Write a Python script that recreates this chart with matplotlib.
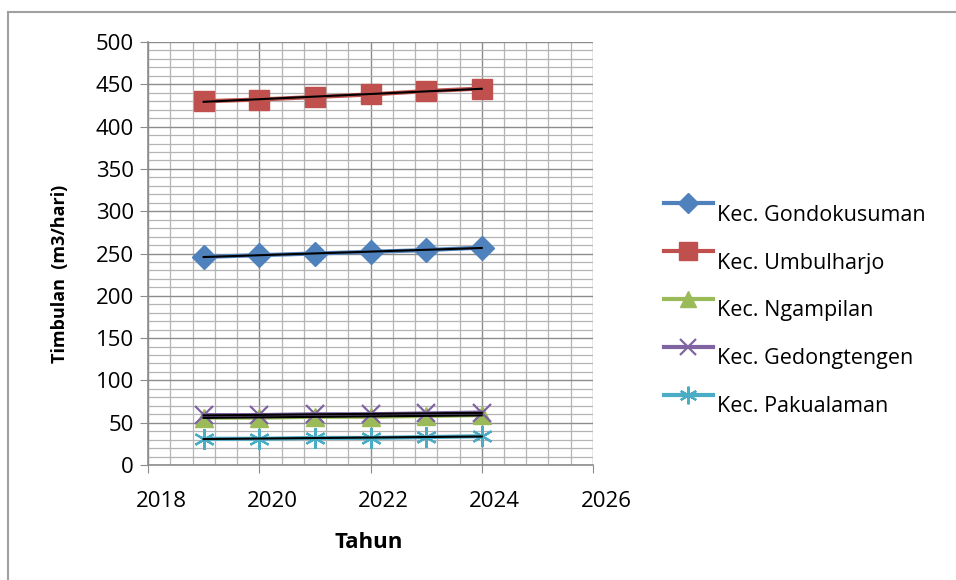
import matplotlib
matplotlib.use('Agg')
import matplotlib.pyplot as plt
import matplotlib.transforms as mtransforms
import numpy as np
from matplotlib.ticker import MultipleLocator

plt.rcParams['font.family'] = ['Open Sans', 'DejaVu Sans']

# data
tahun = [2019, 2020, 2021, 2022, 2023, 2024]
gondokusuman = [246, 248, 250, 252, 254, 257]
umbulharjo = [430, 432, 435, 438, 442, 445]
ngampilan = [56, 56, 57, 57, 58, 59]
gedongtengen = [59, 59, 60, 60, 61, 62]
pakualaman = [31, 31, 32, 32, 33, 34]

labels = ['Kec. Gondokusuman', 'Kec. Umbulharjo', 'Kec. Ngampilan',
          'Kec. Gedongtengen', 'Kec. Pakualaman']
colors = ['#4F81BD', '#C0504D', '#9BBB59', '#8064A2', '#4BACC6']
markers = ['D', 's', '^', 'x', (6, 2, 0)]
msizes = [12, 15, 13, 13, 15]
series = [gondokusuman, umbulharjo, ngampilan, gedongtengen, pakualaman]

fig = plt.figure(figsize=(9.56, 5.8), dpi=100)
top = 42
ax = fig.add_axes([148 / 956, 1 - 465 / 580, (593 - 148) / 956, (465 - top) / 580])

x = np.array(tahun)
for y, lab, c, m, ms in zip(series, labels, colors, markers, msizes):
    y = np.array(y)
    if m in ('x',) or isinstance(m, tuple):
        ax.plot(x, y, color=c, lw=3, marker=m, ms=ms, mew=1.6, label=lab, zorder=3)
    else:
        ax.plot(x, y, color=c, lw=3, marker=m, ms=ms, mec=c, label=lab, zorder=3)
    # linear trendline like Excel
    k, b = np.polyfit(x, y, 1)
    ax.plot(x, k * x + b, color='black', lw=1.5, zorder=4)

ax.set_xlim(2018, 2026)
ax.set_ylim(0, 500)
ax.xaxis.set_major_locator(MultipleLocator(2))
ax.xaxis.set_minor_locator(MultipleLocator(0.4))
ax.yaxis.set_major_locator(MultipleLocator(50))
ax.yaxis.set_minor_locator(MultipleLocator(10))
ax.grid(which='major', color='#8c8c8c', lw=1.0)
ax.grid(which='minor', color='#b4b4b4', lw=0.9)
ax.set_axisbelow(True)

for s in ['top', 'right']:
    ax.spines[s].set_visible(False)
for s in ['left', 'bottom']:
    ax.spines[s].set_color('#8c8c8c')
    ax.spines[s].set_linewidth(1.2)

ax.tick_params(which='major', length=6, color='#8c8c8c', labelsize=16, pad=4)
ax.tick_params(which='minor', length=0)
ax.tick_params(axis='x', pad=13)
# Excel draws the year labels a bit to the right of their ticks
shift = mtransforms.ScaledTranslation(0.13, 0, fig.dpi_scale_trans)
for t in ax.get_xticklabels():
    t.set_transform(t.get_transform() + shift)

ax.set_xlabel('Tahun', fontsize=16, fontweight='bold')
ax.xaxis.set_label_coords((369 - 148) / 445, -(542 - 465) / (465 - top))
ax.xaxis.label.set_va('center')
ax.set_ylabel('Timbulan  (m3/hari)', fontsize=13, fontweight='bold')
ax.yaxis.set_label_coords((60 - 148) / 445, (465 - 274) / (465 - top))
ax.yaxis.label.set_va('center')

leg = ax.legend(loc='upper left', bbox_to_anchor=(655 / 956, 1 - 186 / 580),
                bbox_transform=fig.transFigure, frameon=False, fontsize=15.5,
                handlelength=2.3, handletextpad=0.2, labelspacing=1.25,
                borderaxespad=0, markerscale=0.85)
down = mtransforms.ScaledTranslation(0, -0.10, fig.dpi_scale_trans)
for t in leg.get_texts():
    t.set_transform(t.get_transform() + down)

# outer chart border
fig.add_artist(plt.Line2D([8 / 956, 8 / 956], [0, 1 - 12 / 580], color='#a0a0a0', lw=1.5))
fig.add_artist(plt.Line2D([8 / 956, 1], [1 - 12 / 580, 1 - 12 / 580], color='#a0a0a0', lw=1.5))

fig.savefig('out.png', dpi=100)
